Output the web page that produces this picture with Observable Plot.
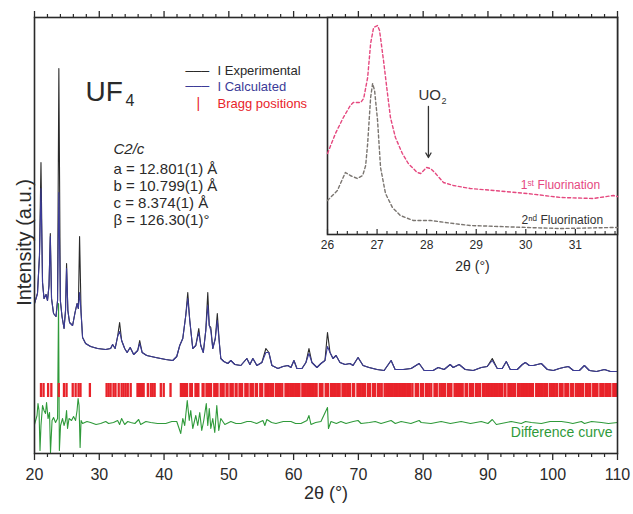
<!DOCTYPE html>
<html><head><meta charset="utf-8">
<script src="https://cdn.jsdelivr.net/npm/d3@7"></script>
<script src="https://cdn.jsdelivr.net/npm/@observablehq/plot@0.6"></script>
<style>
body{margin:0;background:#fff;}
#wrap{position:relative;width:633px;height:514px;font-family:"Liberation Sans",Arial,sans-serif;}
#wrap svg{position:absolute;left:0;top:0;}
</style></head><body><div id="wrap"></div>
<script>
// ---- main pattern (2θ in degrees, intensity in a.u.) ----
const twoTheta = [20.0, 20.46, 20.77, 21.0, 21.24, 21.47, 21.78, 22.01, 22.24, 22.44,
  22.63, 22.94, 23.32, 23.56, 23.76, 23.99, 24.25, 24.56, 24.79, 24.95,
  25.15, 25.41, 25.88, 26.26, 26.57, 26.77, 26.96, 27.19, 27.42, 27.89,
  28.66, 29.74, 30.98, 31.75, 32.06, 32.45, 32.83, 33.14, 33.45, 33.92,
  34.30, 34.77, 35.31, 35.93, 36.24, 36.62, 37.32, 38.71, 40.26, 41.34,
  41.96, 42.42, 42.89, 43.35, 43.66, 43.97, 44.43, 44.90, 45.36, 45.67,
  46.06, 46.44, 46.75, 46.98, 47.22, 47.52, 47.91, 48.22, 48.53, 48.76,
  49.23, 49.84, 50.31, 50.93, 51.85, 52.78, 53.25, 53.71, 54.33, 55.10,
  55.72, 56.18, 56.65, 57.58, 58.35, 59.12, 59.59, 60.05, 60.51, 61.29,
  61.90, 62.37, 62.83, 63.60, 64.22, 64.84, 65.23, 65.62, 66.08, 66.55,
  67.16, 67.94, 68.71, 69.17, 69.95, 70.72, 71.65, 72.88, 73.97, 75.05,
  75.67, 76.91, 78.14, 79.38, 80.15, 81.54, 82.32, 83.24, 84.17, 84.64,
  85.56, 86.49, 87.73, 88.97, 89.89, 90.67, 91.44, 92.21, 92.83, 93.45,
  94.53, 95.31, 95.77, 96.39, 97.01, 98.24, 99.17, 100.10, 101.03, 101.65,
  102.42, 103.19, 104.12, 104.89, 105.66, 106.75, 107.99, 108.91, 110.0];
const experimental = [150, 160, 198, 291, 171, 155, 159, 153, 168, 220,
  155, 140, 137, 153, 385, 153, 137, 125, 143, 190,
  143, 131, 128, 141, 150, 145, 217, 141, 116, 110,
  107, 105, 104, 105, 109, 105, 117, 131, 113, 105,
  101, 106, 99, 103, 113, 101, 98, 96, 94, 93,
  97, 108, 115, 138, 161, 133, 105, 108, 125, 108,
  101, 123, 161, 128, 126, 105, 115, 140, 111, 95,
  92, 90, 93, 89, 88, 95, 89, 95, 88, 91,
  105, 101, 88, 85, 87, 88, 86, 93, 85, 85,
  91, 105, 91, 86, 90, 93, 121, 101, 95, 98,
  91, 89, 90, 88, 96, 88, 86, 84, 83, 93,
  84, 84, 85, 90, 83, 83, 86, 84, 89, 86,
  89, 84, 83, 86, 87, 95, 85, 85, 92, 84,
  84, 89, 91, 88, 88, 90, 84, 83, 85, 86,
  87, 83, 83, 88, 83, 82, 84, 82, 82];
const calculated = [150, 160, 198, 265, 171, 155, 159, 153, 168, 217,
  155, 140, 137, 153, 261, 153, 137, 125, 143, 185,
  143, 131, 128, 141, 150, 145, 161, 141, 116, 110,
  107, 105, 104, 105, 109, 105, 117, 122, 113, 105,
  101, 106, 99, 103, 110, 101, 98, 96, 94, 93,
  97, 108, 115, 138, 155, 133, 105, 108, 121, 108,
  101, 123, 148, 128, 123, 105, 115, 133, 111, 95,
  92, 90, 93, 89, 88, 95, 89, 95, 88, 91,
  101, 101, 88, 85, 87, 88, 86, 93, 85, 85,
  91, 100, 91, 86, 90, 93, 107, 101, 95, 98,
  91, 89, 90, 88, 96, 88, 86, 84, 83, 93,
  84, 84, 85, 90, 83, 83, 86, 84, 89, 86,
  89, 84, 83, 86, 87, 93, 85, 85, 92, 84,
  84, 89, 91, 88, 88, 90, 84, 83, 85, 86,
  87, 83, 83, 88, 83, 82, 84, 82, 82];
// difference curve (offset below the pattern)
const diffTheta = [20.0, 20.39, 20.54, 20.70, 20.85, 21.0, 21.24, 21.47, 21.70, 21.86,
  22.09, 22.32, 22.47, 22.71, 22.94, 23.25, 23.56, 23.71, 23.84, 24.02,
  24.33, 24.56, 24.79, 24.95, 25.10, 25.33, 25.72, 26.03, 26.34, 26.57,
  26.73, 26.88, 27.04, 27.19, 27.42, 28.1, 28.66, 29.5, 30.21, 31.0, 31.44, 32.2, 32.83, 33.14,
  33.45, 33.92, 34.4, 34.84, 35.5, 36.08, 36.39, 37.2, 37.94, 39.0, 40.26, 41.2, 41.96, 42.58, 42.89,
  43.19, 43.58, 43.89, 44.12, 44.43, 44.90, 45.20, 45.51, 45.82, 46.13,
  46.52, 46.75, 46.98, 47.22, 47.52, 47.83, 48.14, 48.45, 48.76, 49.38,
  50.31, 51.1, 51.85, 52.8, 53.40, 54.3, 55.26, 55.56, 55.87, 56.6, 57.27, 58.4, 59.59, 60.3, 61.13, 62.06,
  62.37, 62.68, 63.4, 64.22, 65.23, 65.38, 65.77, 66.6, 67.3, 68.09, 69.2, 69.95, 70.41, 71.7, 72.6, 73.50,
  75.05, 75.7, 76.60, 78.1, 79.38, 79.69, 81.2, 82.78, 84.2, 85.87, 87.3, 88.97, 90.0,
  90.67, 91.3, 92.06, 93.6, 95.15, 95.8, 96.7, 98.24, 99.6, 101.34, 102.4, 103.1, 104.43, 104.9, 106.0,
  107.52, 108.6, 110.0];
const difference = [29, 38, 50, 43, 3, 28, 48, 43, 40, 51,
  35, 41, 1, 33, 36, 31, 35, 150, 3, 28,
  35, 28, 33, 43, 25, 35, 33, 37, 33, 43,
  55, 48, 6, 33, 30, 32, 31, 29, 30, 32, 30, 31, 33, 29,
  35, 29, 32, 31, 30, 34, 29, 32, 31, 30, 30, 32, 32, 20, 35,
  28, 53, 33, 43, 25, 38, 28, 41, 23, 33,
  50, 28, 45, 25, 35, 21, 48, 23, 35, 29,
  32, 30, 30, 32, 32, 30, 33, 28, 34, 31, 30, 32, 32, 30, 30, 33,
  38, 29, 31, 32, 46, 25, 32, 30, 32, 30, 32, 33, 30, 31, 32, 30,
  33, 30, 32, 30, 33, 31, 30, 32, 30, 32, 30, 32, 30,
  34, 29, 30, 32, 30, 32, 31, 30, 32, 32, 31, 30, 32, 30, 32,
  31, 30, 31];
// Bragg reflection positions (2θ)
const braggPositions = [21.0, 21.4, 22.1, 22.6, 23.75, 24.55, 24.95, 25.9, 26.35, 26.8, 27.1, 28.55,
  31.13, 31.44, 31.75, 32.2, 32.5, 33.0, 33.45, 33.75, 34.07, 34.4, 34.85, 35.9, 36.15, 36.4, 36.6, 36.85,
  37.5, 37.95, 38.25, 38.55, 39.5, 39.95, 41.0,
  42.6, 42.85, 43.1, 43.35, 43.55, 44.05, 44.3, 44.85, 45.1, 45.3, 45.95, 46.1, 46.55, 46.8, 47.05, 47.25,
  47.75, 48.0, 48.25, 48.75, 49.0, 49.2, 49.65, 49.8, 50.25, 50.5, 50.6, 51.05, 51.2, 51.65, 51.9, 52.05,
  52.55, 52.8, 52.9, 53.35, 53.6, 53.7, 54.15, 54.35, 54.85, 55.05, 55.15,
  55.65, 55.9, 56.15, 56.4, 56.6, 56.8, 57.25, 57.5, 57.75, 58.0, 58.25, 58.75, 59.0, 59.25, 59.5, 59.75,
  60.0, 60.25, 60.5, 60.75, 60.9, 61.35, 61.6, 61.85, 62.1, 62.35, 62.6, 62.85, 63.1, 63.35, 63.55, 64.05, 64.3, 64.45,
  64.95, 65.2, 65.3, 65.75, 66.0, 66.25, 66.5, 66.75, 67.0, 67.1, 67.55, 67.8, 68.05, 68.3, 68.55, 68.7, 69.15, 69.35, 69.85,
  70.1, 70.35, 70.6, 70.85, 71.0, 71.45, 71.7, 71.8, 72.25, 72.5, 72.6, 73.05, 73.3, 73.6, 74.05, 74.3, 74.55, 74.8,
  75.05, 75.3, 75.55, 75.8, 76.05, 76.3, 76.55, 76.8, 77.05, 77.3, 77.55, 77.8, 78.05, 78.35, 78.85,
  79.05, 79.2, 79.65, 79.9, 80.0, 80.45, 80.7, 80.95, 81.25, 81.75, 82.0, 82.1, 82.55, 82.8, 83.05, 83.3, 83.4, 83.85, 84.1,
  84.35, 84.85, 85.1, 85.35, 85.6, 85.85, 86.1, 86.55, 86.75, 86.8, 87.25, 87.5, 87.7, 88.15, 88.4, 88.65, 88.8, 89.25,
  89.5, 89.75, 90.0, 90.25, 90.5, 90.75, 91.0, 91.25, 91.5, 91.75, 92.0, 92.2, 92.6, 92.7, 93.15, 93.4, 93.65,
  93.9, 94.2, 94.65, 94.9, 95.15, 95.4, 95.65, 95.9, 96.15, 96.4, 96.65, 96.95, 97.45, 97.7, 97.95,
  98.2, 98.45, 98.7, 98.95, 99.1, 99.55, 99.8, 100.05, 100.3, 100.55, 100.7, 101.15, 101.45, 101.5, 101.95, 102.2, 102.4, 102.85,
  103.05, 103.1, 103.55, 103.8, 104.05, 104.3, 104.55, 104.7, 105.15, 105.4, 105.65, 105.8, 106.25, 106.5, 106.75, 106.9, 107.35,
  107.6, 107.8, 107.85, 108.25, 108.5, 108.75, 108.9, 109.35, 109.6, 109.85];
const mainTickValues = [20, 30, 40, 50, 60, 70, 80, 90, 100, 110];
const mainMinorTicks = [22, 24, 26, 28, 32, 34, 36, 38, 42, 44, 46, 48, 52, 54, 56, 58, 62, 64, 66, 68,
  72, 74, 76, 78, 82, 84, 86, 88, 92, 94, 96, 98, 102, 104, 106, 108];

// ---- inset: zoom on 26-32° ----
const inset1Theta = [26.00, 26.16, 26.32, 26.46, 26.52, 26.67, 26.73, 26.81, 26.87, 26.93, 27.01, 27.05,
  27.13, 27.21, 27.27, 27.37, 27.51, 27.63, 27.81, 27.88, 28.00, 28.08, 28.18, 28.34, 28.54, 28.88,
  29.35, 30.03, 30.70, 31.36, 31.77, 31.85];
const firstFluorination = [81, 101, 117, 129, 132, 132, 136, 157, 191, 207, 209, 204,
  174, 141, 117, 97, 81, 71, 62, 61, 67, 66, 61, 52, 49, 46,
  44, 41, 37, 36, 39, 38];
const inset2Theta = [26.00, 26.20, 26.36, 26.46, 26.60, 26.71, 26.77, 26.81, 26.87, 26.91, 26.95, 27.01,
  27.07, 27.17, 27.31, 27.47, 27.73, 28.08, 28.54, 28.88, 30.03, 30.70, 31.77, 31.85];
const secondFluorination = [34, 44, 62, 59, 56, 59, 69, 91, 137, 151, 144, 114,
  67, 41, 27, 19, 14, 14, 11, 9, 7, 6, 7, 7];
const insetTickValues = [26, 27, 28, 29, 30, 31];
const insetMinorTicks = [26.2, 26.4, 26.6, 26.8, 27.2, 27.4, 27.6, 27.8, 28.2, 28.4, 28.6, 28.8,
  29.2, 29.4, 29.6, 29.8, 30.2, 30.4, 30.6, 30.8, 31.2, 31.4, 31.6, 31.8];

const cellLines = ["a = 12.801(1) Å", "b = 10.799(1) Å", "c = 8.374(1) Å", "β = 126.30(1)°"];

const BLACK = "#2a2a2a", BLUE = "#3b3b98", GREEN = "#2f9a3a", RED = "#e8232a", PINK = "#e5487f", GREY = "#7a7570";
const FONT = "Liberation Sans, Arial, sans-serif";

const profile = twoTheta.map((t, i) => ({t, obs: experimental[i], calc: calculated[i]}))
  .filter(d => d.obs != null && d.calc != null);
const diffData = diffTheta.map((t, i) => ({t, d: difference[i]})).filter(d => d.d != null);
const f1 = inset1Theta.map((t, i) => ({t, v: firstFluorination[i]})).filter(d => d.v != null);
const f2 = inset2Theta.map((t, i) => ({t, v: secondFluorination[i]})).filter(d => d.v != null);

const cellMarks = cellLines.map((s, i) =>
  Plot.text([s], {frameAnchor: "top-left", dx: 79, dy: 146 + 17 * i, textAnchor: "start", fontSize: 15, fill: BLACK}));

const main = Plot.plot({
  width: 633, height: 514,
  marginLeft: 34, marginRight: 16, marginTop: 17, marginBottom: 61,
  style: {background: "transparent", fontFamily: FONT, overflow: "visible", color: BLACK},
  x: {domain: [20, 110], axis: null},
  y: {domain: [0, 436], axis: null},
  marks: [
    Plot.lineY(diffData, {x: "t", y: "d", stroke: GREEN, strokeWidth: 1.1}),
    Plot.ruleX(braggPositions, {x: d => d, y1: 56, y2: 70, stroke: RED, strokeWidth: 2.3}),
    Plot.lineY(profile, {x: "t", y: "obs", stroke: BLACK, strokeWidth: 1.1}),
    Plot.lineY(profile, {x: "t", y: "calc", stroke: BLUE, strokeWidth: 1.1}),
    Plot.frame({stroke: BLACK, strokeWidth: 1.6}),
    Plot.axisX({ticks: mainTickValues, anchor: "bottom", tickSize: 7, tickPadding: 8, fontSize: 16, strokeWidth: 1.3, label: null, tickFormat: d => d}),
    Plot.axisX({ticks: mainMinorTicks, anchor: "bottom", tickSize: 4, strokeWidth: 1.2, label: null, tickFormat: () => ""}),
    Plot.axisX({ticks: mainTickValues, anchor: "top", tickSize: 7, strokeWidth: 1.3, label: null, tickFormat: () => ""}),
    Plot.axisX({ticks: mainMinorTicks, anchor: "top", tickSize: 4, strokeWidth: 1.2, label: null, tickFormat: () => ""}),
    Plot.text(["2θ (°)"], {frameAnchor: "bottom", dy: 45, fontSize: 18, fill: BLACK}),
    Plot.text(["Intensity (a.u.)"], {frameAnchor: "top-left", rotate: -90, dx: -18, dy: 225, fontSize: 20, textAnchor: "middle", fill: BLACK}),
    // title + legend
    Plot.text(["UF"], {frameAnchor: "top-left", dx: 51, dy: 64, fontSize: 28, textAnchor: "start", fill: BLACK}),
    Plot.text(["4"], {frameAnchor: "top-left", dx: 91, dy: 77, fontSize: 16, textAnchor: "start", fill: BLACK}),
    Plot.text(["───"], {frameAnchor: "top-left", dx: 151, dy: 49, fontSize: 13, textAnchor: "start", fill: BLACK, fontFamily: "DejaVu Sans"}),
    Plot.text(["───"], {frameAnchor: "top-left", dx: 151, dy: 64, fontSize: 13, textAnchor: "start", fill: BLUE, fontFamily: "DejaVu Sans"}),
    Plot.text(["|"], {frameAnchor: "top-left", dx: 162, dy: 81, fontSize: 14, textAnchor: "start", fill: RED}),
    Plot.text(["I Experimental"], {frameAnchor: "top-left", dx: 183, dy: 48, fontSize: 13, textAnchor: "start", fill: BLACK}),
    Plot.text(["I Calculated"], {frameAnchor: "top-left", dx: 183, dy: 64, fontSize: 13, textAnchor: "start", fill: BLUE}),
    Plot.text(["Bragg positions"], {frameAnchor: "top-left", dx: 183, dy: 81, fontSize: 13, textAnchor: "start", fill: RED}),
    Plot.text(["C2/c"], {frameAnchor: "top-left", dx: 79, dy: 126, fontSize: 15, fontStyle: "italic", textAnchor: "start", fill: BLACK}),
    ...cellMarks,
    Plot.text(["Difference curve"], {frameAnchor: "bottom-right", dx: -5, dy: -17, fontSize: 14, textAnchor: "end", fill: GREEN})
  ]
});
document.getElementById("wrap").appendChild(main);

const inset = Plot.plot({
  width: 633, height: 290,
  marginLeft: 327, marginRight: 16, marginTop: 17, marginBottom: 56,
  style: {background: "transparent", fontFamily: FONT, overflow: "visible", color: BLACK},
  x: {domain: [26, 31.85], axis: null},
  y: {domain: [0, 217], axis: null},
  marks: [
    Plot.frame({fill: "white", stroke: BLACK, strokeWidth: 1.6}),
    Plot.lineY(f2, {x: "t", y: "v", stroke: GREY, strokeWidth: 1.4, strokeDasharray: "3,2.5"}),
    Plot.lineY(f1, {x: "t", y: "v", stroke: PINK, strokeWidth: 1.4, strokeDasharray: "3,2.5"}),
    Plot.ruleX(insetTickValues, {x: d => d, y1: 0, y2: 5, stroke: BLACK, strokeWidth: 1.2}),
    Plot.ruleX(insetMinorTicks, {x: d => d, y1: 0, y2: 3, stroke: BLACK, strokeWidth: 1.1}),
    Plot.axisX({ticks: insetTickValues, anchor: "bottom", tickSize: 0, tickPadding: 6, fontSize: 12, label: null, tickFormat: d => d}),
    Plot.text(["2θ (°)"], {frameAnchor: "bottom", dy: 36, fontSize: 14, fill: BLACK}),
    Plot.text(["UO"], {x: () => 27.835, y: () => 139, textAnchor: "start", fontSize: 15, fill: "#333"}),
    Plot.text(["2"], {x: () => 28.30, y: () => 133, textAnchor: "start", fontSize: 9, fill: "#333"}),
    Plot.arrow([{x: 28.036, y1: 128, y2: 77}], {x1: "x", x2: "x", y1: "y1", y2: "y2", stroke: "#333", strokeWidth: 1.3, headLength: 6}),
    Plot.text(["1ˢᵗ Fluorination"], {x: () => 31.50, y: () => 49, textAnchor: "end", fontSize: 12, fill: PINK}),
    Plot.text(["2ⁿᵈ Fluorination"], {x: () => 31.56, y: () => 14, textAnchor: "end", fontSize: 12, fill: "#333"})
  ]
});
document.getElementById("wrap").appendChild(inset);
</script></body></html>
